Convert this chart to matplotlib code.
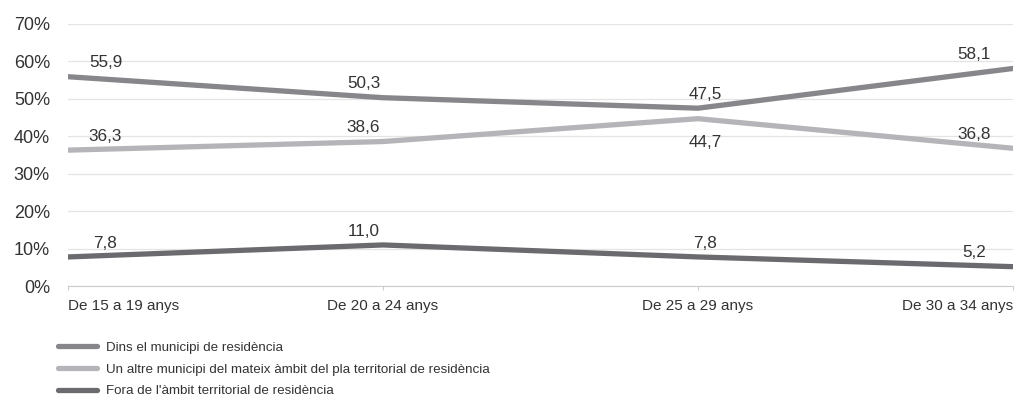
import matplotlib
matplotlib.use("Agg")
import matplotlib.pyplot as plt

plt.rcParams["font.family"] = ["Liberation Sans", "DejaVu Sans"]

age_groups = ["De 15 a 19 anys", "De 20 a 24 anys", "De 25 a 29 anys", "De 30 a 34 anys"]
series_names = [
    "Dins el municipi de residència",
    "Un altre municipi del mateix àmbit del pla territorial de residència",
    "Fora de l'àmbit territorial de residència",
]
dins = [55.9, 50.3, 47.5, 58.1]
altre = [36.3, 38.6, 44.7, 36.8]
fora = [7.8, 11.0, 7.8, 5.2]

colors = ["#87878b", "#b5b5b9", "#6b6b6f"]
# label offsets in points (dx per column)
dx = [27, -14, 5, -28]
dy_above = 10

fig = plt.figure(figsize=(10.15, 3.98), dpi=100)
ax = fig.add_axes([0.067, 0.281, 0.931, 0.659])

x = list(range(len(age_groups)))
for vals, col, name in zip([dins, altre, fora], colors, series_names):
    ax.plot(x, vals, color=col, lw=3.8, solid_capstyle="round", label=name, zorder=3)

for vals, below in [(dins, [False] * 4), (altre, [False, False, True, False]), (fora, [False] * 4)]:
    for i, v in enumerate(vals):
        dy = -17 if below[i] else dy_above
        ax.annotate(f"{v:.1f}".replace(".", ","), (i, v), xytext=(dx[i], dy),
                    textcoords="offset points", ha="center", va="center",
                    fontsize=12.3, color="#333333")

ax.set_xlim(0, 3)
ax.set_ylim(0, 70)
ax.set_yticks(range(0, 71, 10))
ax.set_yticklabels([f"{t}%" for t in range(0, 71, 10)], fontsize=13, color="#333333")
ax.set_xticks(x)
ax.set_xticklabels(age_groups, fontsize=11, color="#333333")
lbls = ax.get_xticklabels()
lbls[0].set_ha("left")
lbls[-1].set_ha("right")

ax.grid(axis="y", color="#e4e4e4", lw=0.9)
ax.set_axisbelow(True)
for s in ["top", "right", "left"]:
    ax.spines[s].set_visible(False)
ax.spines["bottom"].set_color("#cccccc")
ax.tick_params(axis="y", length=0, pad=13)
ax.tick_params(axis="x", length=3, color="#cccccc", pad=6)

fig.legend(loc="upper left", bbox_to_anchor=(0.052, 0.155), frameon=False,
           fontsize=9.6, handlelength=2.9, handletextpad=0.7, labelspacing=0.7,
           labelcolor="#333333", borderaxespad=0)

fig.savefig("out.png", dpi=100)
